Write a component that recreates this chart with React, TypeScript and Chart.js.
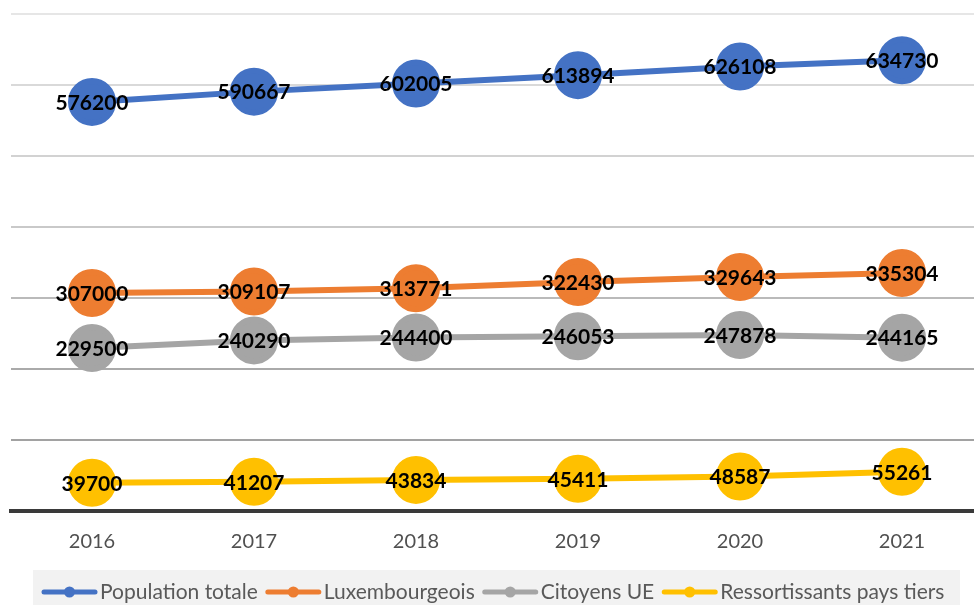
import React, { useEffect, useRef } from "react";
import { Chart, registerables } from "chart.js";

Chart.register(...registerables);

const years = ["2016", "2017", "2018", "2019", "2020", "2021"];
const seriesNames = ["Population totale", "Luxembourgeois", "Citoyens UE", "Ressortissants pays tiers"];
const populationTotale = [576200, 590667, 602005, 613894, 626108, 634730];
const luxembourgeois = [307000, 309107, 313771, 322430, 329643, 335304];
const citoyensUE = [229500, 240290, 244400, 246053, 247878, 244165];
const ressortissants = [39700, 41207, 43834, 45411, 48587, 55261];
const seriesColors = ["#4472C4", "#ED7D31", "#A5A5A5", "#FFC000"];
const yTicks = [0, 100000, 200000, 300000, 400000, 500000, 600000, 700000];
const gridColors: Record<number, string> = {
  700000: "#e6e6e6",
  600000: "#d9d9d9",
  500000: "#d2d2d2",
  400000: "#c9c9c9",
  300000: "#bababa",
  200000: "#aaaaaa",
  100000: "#a2a2a2",
  0: "rgba(0,0,0,0)",
};

const FONT = "Lato, 'Noto Sans', sans-serif";

const dataLabelPlugin = {
  id: "dataLabels",
  afterDatasetsDraw(chart: any) {
    const ctx = chart.ctx;
    ctx.save();
    ctx.font = `bold 21px ${FONT}`;
    ctx.fillStyle = "#000000";
    ctx.textAlign = "center";
    ctx.textBaseline = "middle";
    chart.data.datasets.forEach((ds: any, i: number) => {
      const meta = chart.getDatasetMeta(i);
      meta.data.forEach((pt: any, j: number) => {
        ctx.fillText(String(ds.data[j]), pt.x, pt.y + 1);
      });
    });
    ctx.restore();
  },
};

const customLegendPlugin = {
  id: "customLegend",
  afterDraw(chart: any) {
    const ctx = chart.ctx;
    ctx.save();
    ctx.fillStyle = "#f2f2f2";
    ctx.fillRect(33, 570, 927, 40);
    ctx.font = `21px ${FONT}`;
    ctx.textBaseline = "middle";
    ctx.textAlign = "left";
    let x = 42;
    const y = 592;
    chart.data.datasets.forEach((ds: any) => {
      ctx.strokeStyle = ds.borderColor;
      ctx.lineWidth = 5;
      ctx.lineCap = "round";
      ctx.beginPath();
      ctx.moveTo(x + 2, y);
      ctx.lineTo(x + 53, y);
      ctx.stroke();
      ctx.fillStyle = ds.borderColor;
      ctx.beginPath();
      ctx.arc(x + 27.5, y, 5.5, 0, Math.PI * 2);
      ctx.fill();
      ctx.fillStyle = "#595959";
      ctx.fillText(ds.label, x + 58, y);
      x += 58 + ctx.measureText(ds.label).width + 8;
    });
    ctx.restore();
  },
};

export default function App() {
  const ref = useRef<HTMLCanvasElement | null>(null);
  useEffect(() => {
    document.body.style.margin = "0";
    if (!ref.current) return;
    const values = [populationTotale, luxembourgeois, citoyensUE, ressortissants];
    const chart = new Chart(ref.current, {
      type: "line",
      data: {
        labels: years,
        datasets: values.map((v, i) => ({
          label: seriesNames[i],
          data: v,
          borderColor: seriesColors[i],
          backgroundColor: seriesColors[i],
          pointBackgroundColor: seriesColors[i],
          pointBorderColor: seriesColors[i],
          borderWidth: 6,
          pointRadius: 21,
          pointHoverRadius: 21,
          tension: 0,
          clip: false as any,
        })),
      },
      options: {
        animation: false,
        responsive: false,
        devicePixelRatio: 1,
        layout: { autoPadding: false, padding: { left: 11, top: 14, right: 0, bottom: 0 } },
        plugins: {
          legend: { display: false },
          tooltip: { enabled: false },
        },
        scales: {
          x: {
            type: "category",
            offset: true,
            grid: { display: false },
            border: { display: true, color: "#3a3a3a", width: 4 },
            ticks: {
              color: "#505050",
              font: { family: FONT, size: 20 },
              padding: 11,
              maxRotation: 0,
            },
            afterFit(scale: any) {
              scale.height = 94;
            },
          },
          y: {
            min: 0,
            max: 700000,
            afterBuildTicks(scale: any) {
              scale.ticks = yTicks.map((v) => ({ value: v }));
            },
            ticks: { display: false },
            border: { display: false },
            grid: {
              drawTicks: false,
              lineWidth: 2,
              color: (c: any) => gridColors[c.tick?.value] ?? "#d9d9d9",
            },
            afterFit(scale: any) {
              scale.width = 0;
            },
          },
        },
      },
      plugins: [dataLabelPlugin, customLegendPlugin],
    });
    return () => chart.destroy();
  }, []);
  return (
    <div style={{ width: 974, height: 605, overflow: "hidden", position: "relative", background: "#fff" }}>
      <canvas ref={ref} width={983} height={605} style={{ display: "block" }} />
    </div>
  );
}
